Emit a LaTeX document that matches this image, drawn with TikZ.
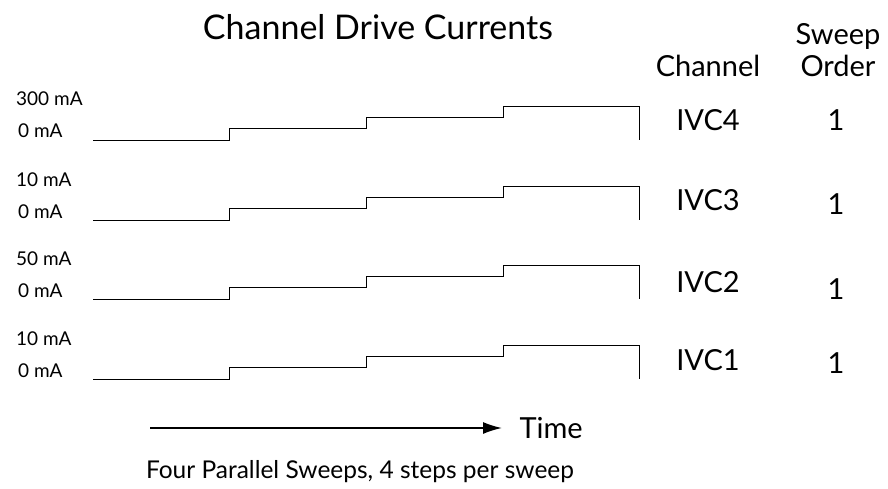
\documentclass[tikz,border=0pt]{standalone}
\usepackage{fontspec}
\setmainfont{Lato}
\usetikzlibrary{arrows.meta,positioning,calc}

\begin{document}
\begin{tikzpicture}[x=1pt,y=-1pt,
	title/.style={font=\fontsize{34}{36}\selectfont,anchor=base},
	head/.style={font=\fontsize{29}{31}\selectfont,anchor=base},
	level/.style={font=\fontsize{19}{21}\selectfont,anchor=base west,inner sep=0pt},
	foot/.style={font=\fontsize{24.5}{26}\selectfont,anchor=base},
	stair/.style={line width=0.8pt},
	timearrow/.style={line width=1.6pt,-{Latex[length=19pt,width=12pt]}}]
	\useasboundingbox (0,0) rectangle (888,489);
	
	\node[title] (title) at (378,40) {Channel Drive Currents};
	\node[head] (chanhead) at (708,77) {Channel};
	\node[head] (sweephead) at (838,45) {Sweep};
	\node[head] (orderhead) at (838,77) {Order};
	
	% one staircase per channel: base line, top value, channel, label baselines
	\foreach \b/\top/\c/\cy/\oy in {140/300/4/131/131, 220/10/3/211/214, 299/50/2/292/299, 379/10/1/370/373}{
		\draw[stair] (93,\b) -- ++(136,0) -- ++(0,-11.3) -- ++(137,0) -- ++(0,-11.3)
			-- ++(137,0) -- ++(0,-11.4) -- ++(136,0) -- ++(0,34);
		\node[level] (lvl\c) at (16,\b-34) {\top\ mA};
		\node[level] (zero\c) at (18,\b-2) {0 mA};
		\node[head] (ivc\c) at (708,\cy) {IVC\c};
		\node[head] (order\c) at (836,\oy) {1};
	}
	
	\coordinate (tstart) at (150,428);
	\node[head,anchor=west] (time) at (516,428) {Time};
	\draw[timearrow,shorten >=14pt] (tstart) -- (time.west);
	
	\node[foot] (caption) at (360,478) {Four Parallel Sweeps, 4 steps per sweep};
\end{tikzpicture}
\end{document}
